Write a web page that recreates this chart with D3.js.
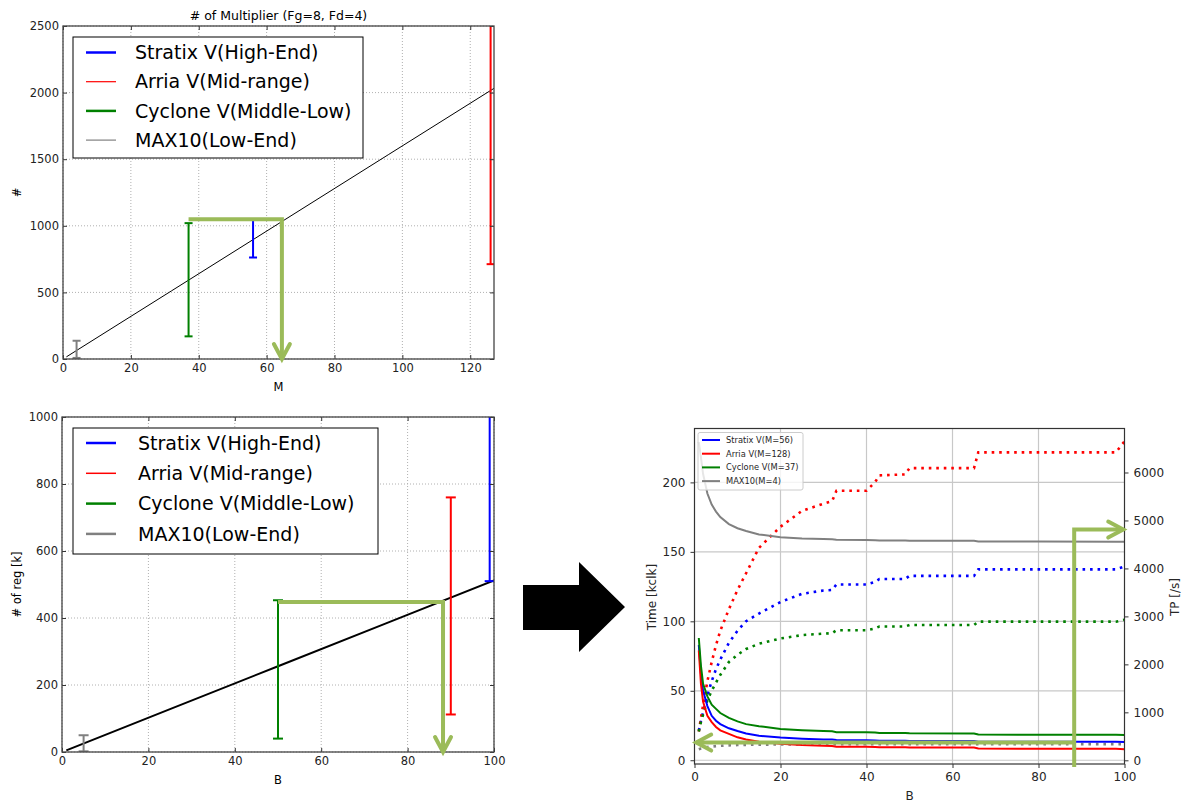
<!DOCTYPE html>
<html>
<head>
<meta charset="utf-8">
<script src="https://cdn.jsdelivr.net/npm/d3@7"></script>
<style>
body { margin: 0; background: #fff; }
svg { font-family: "DejaVu Sans", sans-serif; }
</style>
</head>
<body>
<svg id="fig" width="1192" height="803"></svg>
<script>
// ---------- data ----------
const devNames = ["Stratix V(High-End)", "Arria V(Mid-range)", "Cyclone V(Middle-Low)", "MAX10(Low-End)"];
const devColors = ["#0000ff", "#ff0000", "#008000", "#808080"];

// top left: number of multipliers vs M
const multM = [1, 32, 64, 96, 127];
const multCount = [16, 512, 1024, 1536, 2032];
const multBarM = [56, 126, 37, 4];
const multBarLo = [762, 712, 170, 8];
const multBarHi = [1045, 2900, 1020, 137];
const multTicksX = [0, 20, 40, 60, 80, 100, 120];
const multTicksY = [0, 500, 1000, 1500, 2000, 2500];
const multArrow = [[37, 1050], [64.5, 1050], [64.5, 0]];

// bottom left: number of registers vs B
const regB = [1, 25, 50, 75, 100];
const regCount = [5, 128, 256, 384, 512];
const regBarB = [99, 90, 50, 5];
const regBarLo = [510, 112, 40, 2];
const regBarHi = [1200, 760, 453, 50];
const regTicksX = [0, 20, 40, 60, 80, 100];
const regTicksY = [0, 200, 400, 600, 800, 1000];
const regArrow = [[50, 448], [88.2, 448], [88.2, 0]];

// right: time (solid, left axis) and throughput (dotted, right axis) vs B
const tpNames = ["Stratix V(M=56)", "Arria V(M=128)", "Cyclone V(M=37)", "MAX10(M=4)"];
const batch = [1, 1.5, 2, 3, 4, 5, 6, 8, 10, 12, 15, 20, 25, 30, 32, 33, 40, 42, 43, 49, 50, 65, 66, 80, 98, 100];
const timeStratix = [83, 62, 50, 39, 32, 28.5, 26, 23, 21, 19.3, 17.6, 16.3, 15.5, 15, 14.9, 14.6, 14.4, 14.3, 14.1, 14.1, 13.9, 13.9, 13.4, 13.4, 13.3, 13.2];
const timeArria = [79, 55, 42, 32, 27.5, 24, 21.5, 19, 16.5, 15, 13.3, 11.8, 10.9, 10.4, 10.3, 9.8, 9.7, 9.5, 9.3, 9.3, 9.1, 9.1, 8.4, 8.3, 8.2, 8.0];
const timeCyclone = [88, 68, 55, 46, 40, 37, 34, 30.5, 28, 26, 24.5, 22.5, 21.6, 21, 20.8, 20.2, 20.1, 20, 19.6, 19.6, 19.4, 19.3, 18.5, 18.4, 18.3, 18.1];
const timeMax10 = [229, 218, 206, 192, 184, 179, 175, 170, 167, 165, 162.5, 160.6, 159.7, 159.2, 159, 158.8, 158.5, 158.4, 158.2, 158.2, 158, 158, 157.5, 157.4, 157.3, 157.2];
const tpStratix = [620, 820, 1000, 1350, 1650, 1900, 2100, 2450, 2700, 2900, 3060, 3300, 3470, 3540, 3550, 3665, 3665, 3720, 3780, 3780, 3845, 3845, 3980, 3980, 3980, 4040];
const tpArria = [600, 880, 1150, 1650, 2050, 2400, 2700, 3150, 3550, 3900, 4430, 4870, 5200, 5350, 5400, 5620, 5620, 5800, 5940, 5960, 6090, 6090, 6420, 6420, 6420, 6650];
const tpCyclone = [600, 800, 950, 1250, 1450, 1620, 1780, 2050, 2200, 2320, 2430, 2540, 2610, 2640, 2650, 2710, 2710, 2750, 2790, 2790, 2820, 2820, 2890, 2890, 2890, 2930];
const tpMax10 = [230, 245, 258, 276, 288, 296, 302, 312, 318, 322, 326, 330, 332, 333, 333, 334, 334, 335, 335, 335, 336, 336, 337, 337, 337, 338];
const timeTicks = [0, 50, 100, 150, 200];
const tpTicks = [0, 1000, 2000, 3000, 4000, 5000, 6000];
const batchTicks = [0, 20, 40, 60, 80, 100];
const tpArrowLeftT = 12.7, tpArrowB = 88.3, tpArrowRightTP = 4810;

const arrowGreen = "#9bbb59";
const svg = d3.select("#fig");

function drawArrow(g, pts, w) {
    g.append("path")
        .attr("d", d3.line()(pts))
        .attr("fill", "none")
        .attr("stroke", arrowGreen)
        .attr("stroke-width", w);
    const [x1, y1] = pts[pts.length - 2], [x2, y2] = pts[pts.length - 1];
    const a = Math.atan2(y2 - y1, x2 - x1), L = 15, H = 8;
    const c = Math.cos(a), s = Math.sin(a);
    const head = [[x2 - L * c - H * s, y2 - L * s + H * c], [x2, y2], [x2 - L * c + H * s, y2 - L * s - H * c]];
    g.append("path")
        .attr("d", d3.line()(head))
        .attr("fill", "none")
        .attr("stroke", arrowGreen)
        .attr("stroke-width", w)
        .attr("stroke-linecap", "round");
}

// ---------- left charts (error bar plots) ----------
function errChart(cfg) {
    const x = d3.scaleLinear().domain(cfg.xDom).range([cfg.left, cfg.right]);
    const y = d3.scaleLinear().domain(cfg.yDom).range([cfg.bottom, cfg.top]);
    const g = svg.append("g");

    g.append("clipPath").attr("id", cfg.id)
        .append("rect")
        .attr("x", cfg.left).attr("y", cfg.top)
        .attr("width", cfg.right - cfg.left).attr("height", cfg.bottom - cfg.top);

    // dotted grid
    g.append("g").selectAll("line").data(cfg.xTicks).join("line")
        .attr("x1", d => x(d)).attr("x2", d => x(d))
        .attr("y1", cfg.top).attr("y2", cfg.bottom)
        .attr("stroke", "#b0b0b0").attr("stroke-dasharray", "1,2");
    g.append("g").selectAll("line").data(cfg.yTicks).join("line")
        .attr("y1", d => y(d)).attr("y2", d => y(d))
        .attr("x1", cfg.left).attr("x2", cfg.right)
        .attr("stroke", "#b0b0b0").attr("stroke-dasharray", "1,2");

    const plot = g.append("g").attr("clip-path", `url(#${cfg.id})`);
    // reference line
    plot.append("path")
        .datum(cfg.lineX.map((d, i) => [d, cfg.lineY[i]]))
        .attr("d", d3.line().x(d => x(d[0])).y(d => y(d[1])))
        .attr("fill", "none").attr("stroke", "#000").attr("stroke-width", cfg.lineW);

    // error bars
    cfg.barX.forEach((bx, i) => {
        const eb = plot.append("g").attr("stroke", devColors[i]).attr("stroke-width", 2);
        eb.append("line").attr("x1", x(bx)).attr("x2", x(bx))
            .attr("y1", y(cfg.barLo[i])).attr("y2", y(cfg.barHi[i]));
        [cfg.barLo[i], cfg.barHi[i]].forEach(v => {
            eb.append("line").attr("x1", x(bx) - cfg.cap).attr("x2", x(bx) + cfg.cap)
                .attr("y1", y(v)).attr("y2", y(v));
        });
    });

    // axes (classic style: ticks pointing in, mirrored)
    const fmt = d3.format("d");
    const ax = [
        [d3.axisBottom(x).tickValues(cfg.xTicks).tickFormat(fmt).tickSize(-4).tickPadding(5), `translate(0,${cfg.bottom})`],
        [d3.axisLeft(y).tickValues(cfg.yTicks).tickFormat(fmt).tickSize(-4).tickPadding(4), `translate(${cfg.left},0)`],
        [d3.axisTop(x).tickValues(cfg.xTicks).tickFormat("").tickSize(-4), `translate(0,${cfg.top})`],
        [d3.axisRight(y).tickValues(cfg.yTicks).tickFormat("").tickSize(-4), `translate(${cfg.right},0)`]
    ];
    ax.forEach(([gen, tr]) => {
        const a = g.append("g").attr("transform", tr).call(gen);
        a.select(".domain").remove();
        a.selectAll("line").attr("stroke", "#333");
        a.selectAll("text").attr("font-size", 11.5).attr("fill", "#222").attr("font-family", "DejaVu Sans");
    });
    g.append("rect")
        .attr("x", cfg.left).attr("y", cfg.top)
        .attr("width", cfg.right - cfg.left).attr("height", cfg.bottom - cfg.top)
        .attr("fill", "none").attr("stroke", "#444").attr("stroke-width", 1.3);

    // labels
    g.append("text").attr("x", (cfg.left + cfg.right) / 2).attr("y", cfg.bottom + 32)
        .attr("text-anchor", "middle").attr("font-size", 11.5).text(cfg.xLabel);
    g.append("text").attr("transform", `translate(${cfg.yLabelX},${(cfg.top + cfg.bottom) / 2}) rotate(-90)`)
        .attr("text-anchor", "middle").attr("font-size", 11.5).text(cfg.yLabel);
    if (cfg.title) {
        g.append("text").attr("x", (cfg.left + cfg.right) / 2).attr("y", cfg.top - 6)
            .attr("text-anchor", "middle").attr("font-size", 12.5).text(cfg.title);
    }

    // legend
    const lg = g.append("g");
    lg.append("rect").attr("x", cfg.legend.x).attr("y", cfg.legend.y)
        .attr("width", cfg.legend.w).attr("height", cfg.legend.h)
        .attr("fill", "#fff").attr("stroke", "#000").attr("stroke-width", 1);
    devNames.forEach((name, i) => {
        const ly = cfg.legend.y + cfg.legend.first + i * cfg.legend.step;
        lg.append("line").attr("x1", cfg.legend.x + 13).attr("x2", cfg.legend.x + 43)
            .attr("y1", ly).attr("y2", ly)
            .attr("stroke", devColors[i]).attr("stroke-width", cfg.legend.lw[i]);
        lg.append("text").attr("x", cfg.legend.x + cfg.legend.tx).attr("y", ly).attr("dy", "0.35em")
            .attr("font-size", 19).attr("fill", "#000").text(name);
    });

    drawArrow(g, cfg.arrow.map(p => [x(p[0]), y(p[1])]), 4);
}

errChart({
    id: "clipTop", left: 63, right: 494, top: 26, bottom: 359,
    xDom: [0, 127], yDom: [0, 2500], xTicks: multTicksX, yTicks: multTicksY,
    lineX: multM, lineY: multCount, lineW: 1,
    barX: multBarM, barLo: multBarLo, barHi: multBarHi, cap: 4,
    xLabel: "M", yLabel: "#", yLabelX: 21, title: "# of Multiplier (Fg=8, Fd=4)",
    legend: {x: 73, y: 37, w: 290, h: 121, first: 15.5, step: 29.2, tx: 62, lw: [2.5, 1.2, 2.5, 1.2]},
    arrow: multArrow
});

errChart({
    id: "clipBottom", left: 62, right: 494, top: 417, bottom: 752,
    xDom: [0, 100], yDom: [0, 1000], xTicks: regTicksX, yTicks: regTicksY,
    lineX: regB, lineY: regCount, lineW: 2,
    barX: regBarB, barLo: regBarLo, barHi: regBarHi, cap: 5,
    xLabel: "B", yLabel: "# of reg [k]", yLabelX: 21,
    legend: {x: 73, y: 428, w: 305, h: 126, first: 15, step: 30.3, tx: 65, lw: [2.5, 1.5, 2.5, 2.5]},
    arrow: regArrow
});

// ---------- big black arrow ----------
svg.append("path")
    .attr("d", "M523,585 L579,585 L579,562 L625,607 L579,652 L579,630 L523,630 Z")
    .attr("fill", "#000");

// ---------- right chart (twin axes) ----------
(function () {
    const L = 694.5, R = 1124.5, T = 428.5, Bt = 764;
    const x = d3.scaleLinear().domain([0, 100]).range([L, R]);
    const yT = d3.scaleLinear().domain([-2.7, 238.8]).range([Bt, T]);
    const yP = d3.scaleLinear().domain([-77, 6917]).range([Bt, T]);
    const g = svg.append("g");

    g.append("clipPath").attr("id", "clipRight")
        .append("rect").attr("x", L).attr("y", T).attr("width", R - L).attr("height", Bt - T);

    g.append("g").selectAll("line").data(batchTicks.slice(1, -1)).join("line")
        .attr("x1", d => x(d)).attr("x2", d => x(d)).attr("y1", T).attr("y2", Bt)
        .attr("stroke", "#c8c8c8").attr("stroke-width", 1.2);
    g.append("g").selectAll("line").data(timeTicks).join("line")
        .attr("y1", d => yT(d)).attr("y2", d => yT(d)).attr("x1", L).attr("x2", R)
        .attr("stroke", "#c8c8c8").attr("stroke-width", 1.2);

    const plot = g.append("g").attr("clip-path", "url(#clipRight)");
    const times = [timeStratix, timeArria, timeCyclone, timeMax10];
    const tps = [tpStratix, tpArria, tpCyclone, tpMax10];

    tps.forEach((vals, i) => {
        plot.append("path")
            .datum(batch.map((b, j) => [b, vals[j]]))
            .attr("d", d3.line().x(d => x(d[0])).y(d => yP(d[1])))
            .attr("fill", "none").attr("stroke", devColors[i])
            .attr("stroke-width", 2.6).attr("stroke-dasharray", "2.6,4.9");
    });
    times.forEach((vals, i) => {
        plot.append("path")
            .datum(batch.map((b, j) => [b, vals[j]]))
            .attr("d", d3.line().x(d => x(d[0])).y(d => yT(d[1])))
            .attr("fill", "none").attr("stroke", devColors[i]).attr("stroke-width", 2);
    });

    const style = a => {
        a.select(".domain").remove();
        a.selectAll("line").attr("stroke", "#333");
        a.selectAll("text").attr("font-size", 12).attr("fill", "#262626").attr("font-family", "DejaVu Sans");
    };
    const fmt = d3.format("d");
    g.append("g").attr("transform", `translate(0,${Bt})`)
        .call(d3.axisBottom(x).tickValues(batchTicks).tickFormat(fmt).tickSize(4).tickPadding(4)).call(style);
    g.append("g").attr("transform", `translate(${L},0)`)
        .call(d3.axisLeft(yT).tickValues(timeTicks).tickFormat(fmt).tickSize(4).tickPadding(5)).call(style);
    g.append("g").attr("transform", `translate(${R},0)`)
        .call(d3.axisRight(yP).tickValues(tpTicks).tickFormat(fmt).tickSize(4).tickPadding(5)).call(style);
    g.append("rect").attr("x", L).attr("y", T).attr("width", R - L).attr("height", Bt - T)
        .attr("fill", "none").attr("stroke", "#333").attr("stroke-width", 1.2);

    g.append("text").attr("x", (L + R) / 2).attr("y", 800).attr("text-anchor", "middle")
        .attr("font-size", 12).attr("fill", "#262626").text("B");
    g.append("text").attr("transform", `translate(656,597) rotate(-90)`).attr("text-anchor", "middle")
        .attr("font-size", 12).attr("fill", "#262626").text("Time [kclk]");
    g.append("text").attr("transform", `translate(1179,597) rotate(-90)`).attr("text-anchor", "middle")
        .attr("font-size", 12).attr("fill", "#262626").text("TP [/s]");

    // legend
    const lg = g.append("g");
    lg.append("rect").attr("x", 698).attr("y", 432.5).attr("width", 105).attr("height", 57.5)
        .attr("rx", 2).attr("fill", "#fff").attr("fill-opacity", 0.8)
        .attr("stroke", "#cccccc").attr("stroke-width", 1);
    tpNames.forEach((name, i) => {
        const ly = 440 + i * 13.7;
        lg.append("line").attr("x1", 702).attr("x2", 720).attr("y1", ly).attr("y2", ly)
            .attr("stroke", devColors[i]).attr("stroke-width", 2);
        lg.append("text").attr("x", 726).attr("y", ly).attr("dy", "0.35em")
            .attr("font-size", 8.3).attr("fill", "#262626").text(name);
    });

    // annotation arrows
    const xb = x(tpArrowB);
    drawArrow(g, [[xb, yT(tpArrowLeftT)], [x(0.4), yT(tpArrowLeftT)]], 4);
    drawArrow(g, [[xb, Bt + 3], [xb, yP(tpArrowRightTP)], [x(99.7), yP(tpArrowRightTP)]], 4);
})();
</script>
</body>
</html>
